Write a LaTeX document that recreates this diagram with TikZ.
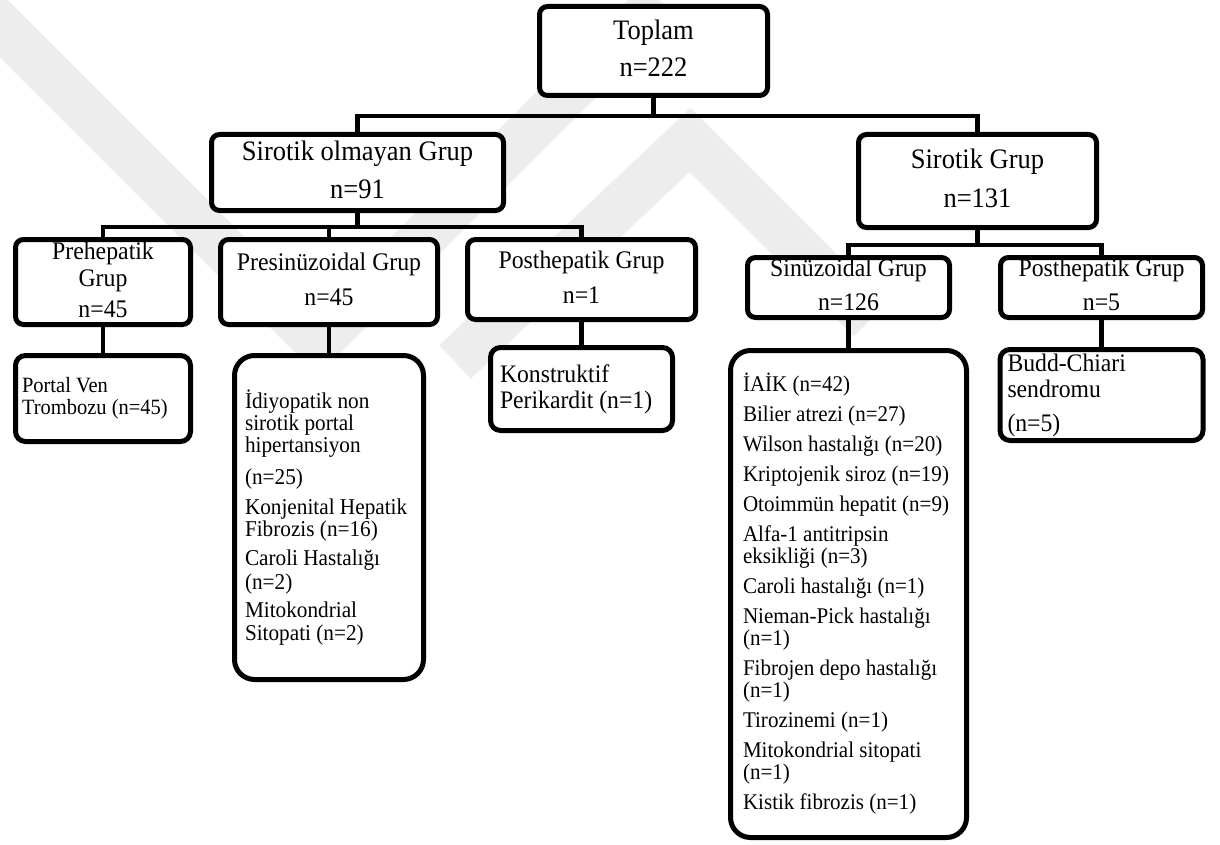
\documentclass[tikz,border=0pt]{standalone}
\usepackage{fontspec}
\setmainfont[FakeStretch=0.94]{Liberation Serif}
\newcommand{\fLone}{\fontsize{28.2pt}{30pt}\selectfont}
\newcommand{\fLtwo}{\fontsize{25.3pt}{27pt}\selectfont}
\newcommand{\fLeafB}{\fontsize{25.2pt}{26pt}\selectfont}
\newcommand{\fLeafA}{\fontsize{22.6pt}{23pt}\selectfont}
\newcommand{\fLeafS}{\fontsize{22.4pt}{23pt}\selectfont}
\newcommand{\fLeafP}{\fontsize{21.8pt}{23pt}\selectfont}
% one row of a stack: #1 = distance from previous baseline, #2 = text
\newcommand{\rw}[2]{\vrule width0pt height\dimexpr#1-0.22em\relax depth0.22em\relax #2\cr}
\newcommand{\cstack}[1]{\vbox{\offinterlineskip\halign{\hfil##\hfil\cr#1}}}
\newcommand{\lstack}[2]{\hbox to #1{\vbox{\offinterlineskip\halign{##\hfil\cr#2}}\hfil}}
\begin{document}
\begin{tikzpicture}[x=1pt,y=-1pt,
  wm/.style={draw=black!7, line width=46pt, line cap=butt, line join=miter},
  hbox/.style={draw=black, line width=5pt, rounded corners=8pt, fill=white,
    inner sep=0pt},
  lbox/.style={draw=black, line width=5pt, rounded corners=10pt, fill=white,
    inner ysep=0pt},
  listbox/.style={lbox, rounded corners=20pt},
  conn/.style={draw=black, line width=4.5pt, line join=miter}]
\useasboundingbox (0,0) rectangle (1220,845);
% faint background watermark
\draw[wm] (-20,5) -- (318,343) -- (660,1);
\draw[wm] (455,362) -- (690,140) -- (870,320);
% level 0
\node[hbox, font=\fLone, minimum width=228pt, minimum height=89pt] (top) at (653.5,51)
  {\cstack{\rw{0.92em}{Toplam}\rw{37pt}{n=222}}};
% level 1
\node[hbox, font=\fLone, minimum width=292pt, minimum height=76pt] (so) at (357.5,172.5)
  {\cstack{\rw{0.92em}{Sirotik olmayan Grup}\rw{38pt}{n=91}}};
\node[hbox, font=\fLone, minimum width=238pt, minimum height=93pt] (sg) at (977.5,181)
  {\cstack{\rw{0.92em}{Sirotik Grup}\rw{39pt}{n=131}}};
% level 2
\node[hbox, font=\fLtwo, minimum width=175pt, minimum height=85pt] (pre) at (103,282)
  {\cstack{\rw{0.92em}{Prehepatik}\rw{27pt}{Grup}\rw{31pt}{n=45}}};
\node[hbox, font=\fLtwo, minimum width=217pt, minimum height=85pt] (presin) at (329,282)
  {\cstack{\rw{0.92em}{Presinüzoidal Grup}\rw{35pt}{n=45}}};
\node[hbox, font=\fLtwo, minimum width=228pt, minimum height=80pt] (postL) at (581.5,279.5)
  {\cstack{\rw{0.92em}{Posthepatik Grup}\rw{35pt}{n=1}}};
\node[hbox, font=\fLtwo, minimum width=202pt, minimum height=60pt] (sin) at (848.5,287.5)
  {\cstack{\rw{0.92em}{Sinüzoidal Grup}\rw{34pt}{n=126}}};
\node[hbox, font=\fLtwo, minimum width=202pt, minimum height=60pt] (postR) at (1101.5,287.5)
  {\cstack{\rw{0.92em}{Posthepatik Grup}\rw{34pt}{n=5}}};
% leaves
\node[lbox, font=\fLeafP, inner xsep=6.5pt, minimum width=175pt, minimum height=86pt] (pv) at (103,398.5)
  {\lstack{162pt}{\rw{0.92em}{Portal Ven}\rw{22pt}{Trombozu (n=45)}}};
\node[listbox, font=\fLeafA, inner xsep=10.5pt, minimum width=189pt, minimum height=324pt] (plist) at (329,517.5)
  {\lstack{168pt}{\rw{0.92em}{İdiyopatik non}\rw{22pt}{sirotik portal}\rw{21.5pt}{hipertansiyon}%
   \rw{32pt}{(n=25)}\rw{30pt}{Konjenital Hepatik}\rw{22.5pt}{Fibrozis (n=16)}%
   \rw{29pt}{Caroli Hastalığı}\rw{23.5pt}{(n=2)}\rw{28.5pt}{Mitokondrial}\rw{22.5pt}{Sitopati (n=2)}}};
\node[lbox, font=\fLeafB, inner xsep=9.5pt, minimum width=182pt, minimum height=83pt] (kon) at (581.5,389)
  {\lstack{163pt}{\rw{0.92em}{Konstruktif}\rw{26pt}{Perikardit (n=1)}}};
\node[listbox, font=\fLeafS, inner xsep=12.5pt, minimum width=236pt, minimum height=487pt] (slist) at (848.5,594)
  {\lstack{211pt}{\rw{0.92em}{İAİK (n=42)}\rw{30pt}{Bilier atrezi (n=27)}\rw{30pt}{Wilson hastalığı (n=20)}%
   \rw{30pt}{Kriptojenik siroz (n=19)}\rw{30pt}{Otoimmün hepatit (n=9)}\rw{30pt}{Alfa-1 antitripsin}%
   \rw{22pt}{eksikliği (n=3)}\rw{30pt}{Caroli hastalığı (n=1)}\rw{30pt}{Nieman-Pick hastalığı}%
   \rw{22pt}{(n=1)}\rw{30pt}{Fibrojen depo hastalığı}\rw{22pt}{(n=1)}\rw{30pt}{Tirozinemi (n=1)}%
   \rw{30pt}{Mitokondrial sitopati}\rw{22pt}{(n=1)}\rw{30pt}{Kistik fibrozis (n=1)}}};
\node[lbox, font=\fLeafB, inner xsep=7.5pt, minimum width=203pt, minimum height=91pt] (bc) at (1101.5,395)
  {\lstack{188pt}{\rw{0.92em}{Budd-Chiari}\rw{26pt}{sendromu}\rw{34pt}{(n=5)}}};
% connectors
\coordinate (j1) at (653.5,116);
\coordinate (j2) at (357.5,227);
\coordinate (j3) at (977.5,245);
\draw[conn] (top.south) -- (j1);
\draw[conn] (so.north) |- (j1) -| (sg.north);
\draw[conn] (so.south) -- (j2);
\draw[conn] (pre.north) |- (j2) -| (postL.north);
\draw[conn] (presin.north) -- (presin.north |- j2);
\draw[conn] (sg.south) -- (j3);
\draw[conn] (sin.north) |- (j3) -| (postR.north);
\draw[conn] (pre.south) -- (pre.south |- pv.north);
\draw[conn] (presin.south) -- (presin.south |- plist.north);
\draw[conn] (postL.south) -- (postL.south |- kon.north);
\draw[conn] (sin.south) -- (sin.south |- slist.north);
\draw[conn] (postR.south) -- (postR.south |- bc.north);
\end{tikzpicture}
\end{document}
